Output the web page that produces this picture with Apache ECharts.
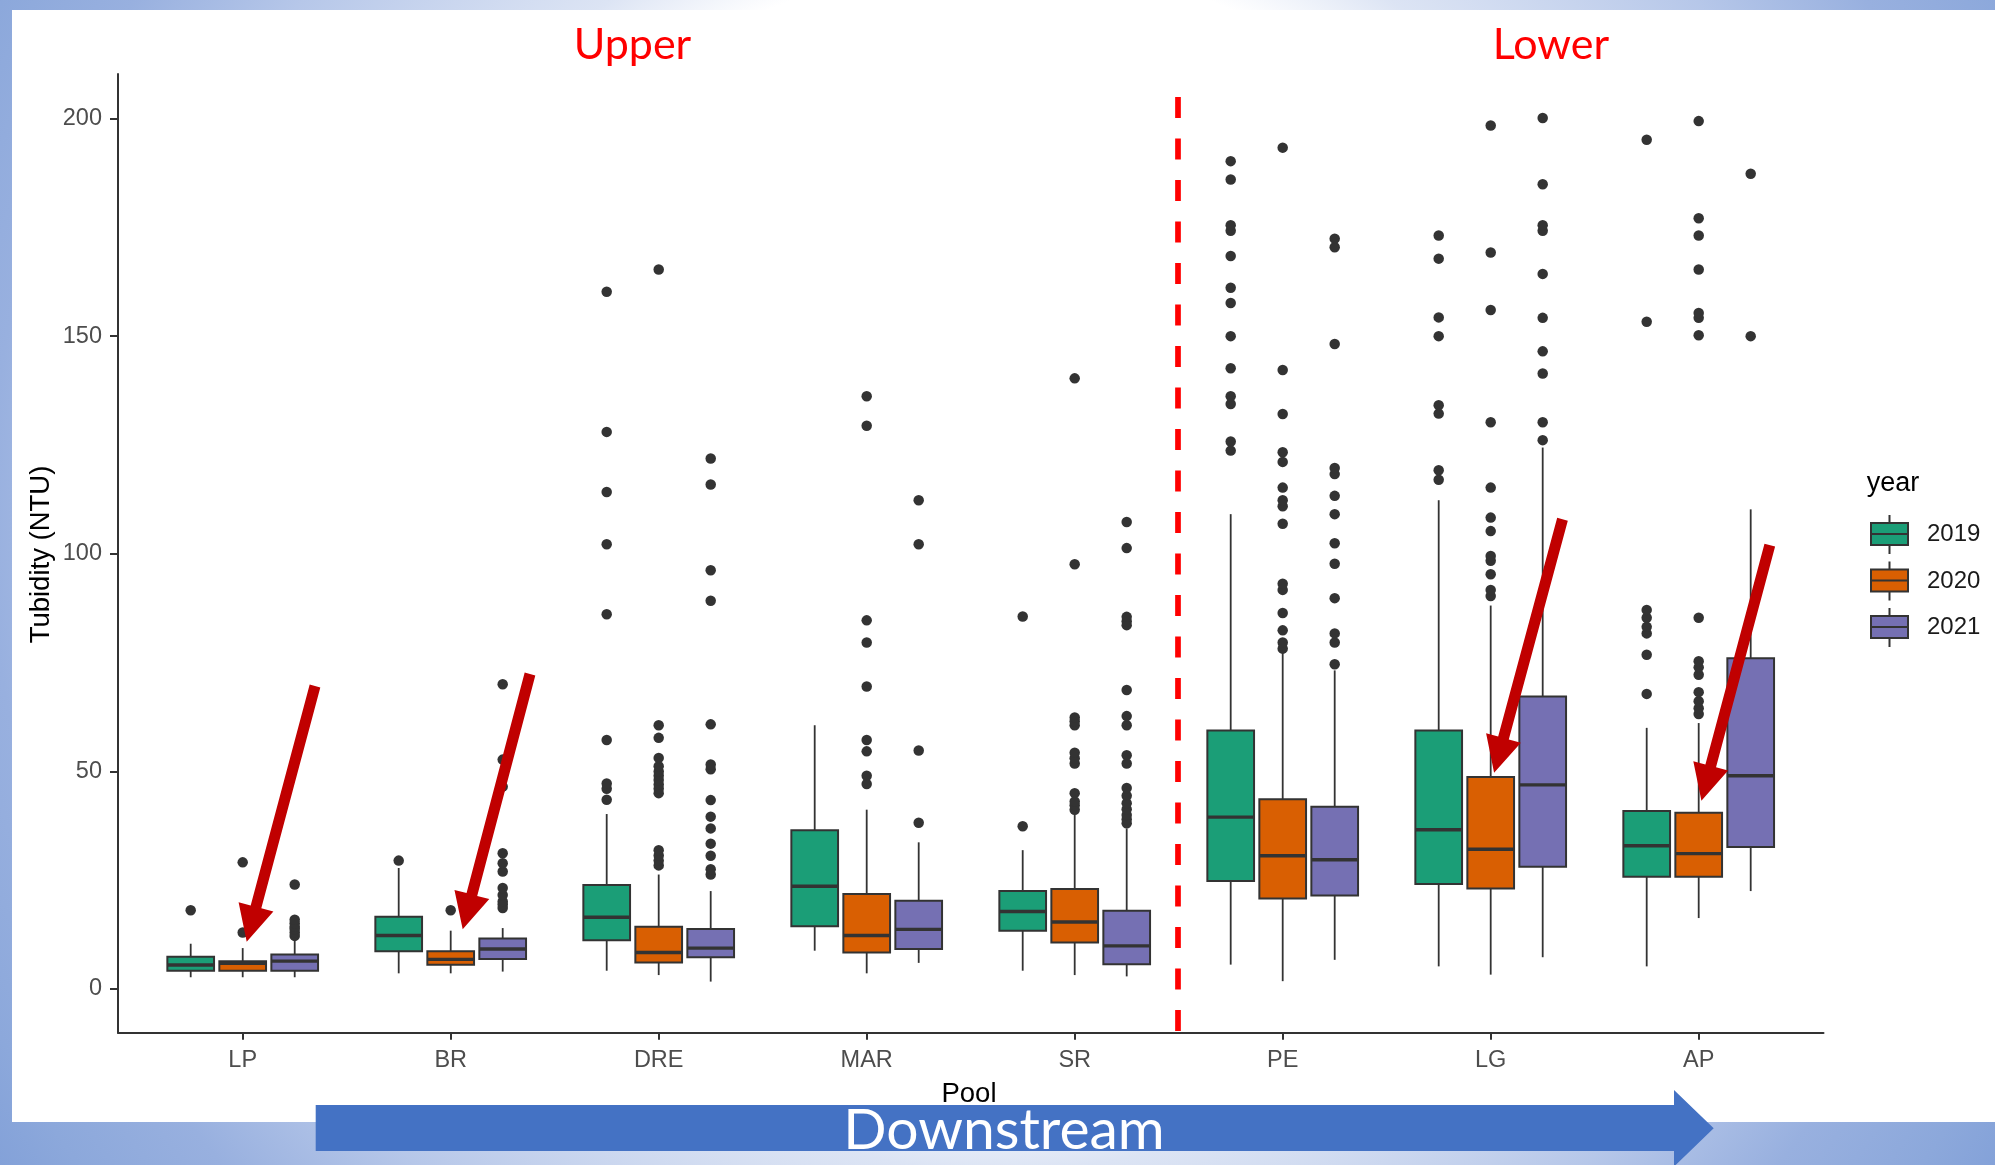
<!DOCTYPE html>
<html>
<head>
<meta charset="utf-8">
<script src="https://cdn.jsdelivr.net/npm/echarts@6/dist/echarts.min.js"></script>
<style>
html,body{margin:0;padding:0;background:#fff;}
#c{width:1995px;height:1165px;}
</style>
</head>
<body>
<div id="c"></div>
<script>
// ---------------- data ----------------
const pools = ['LP', 'BR', 'DRE', 'MAR', 'SR', 'PE', 'LG', 'AP'];
const years = ['2019', '2020', '2021'];
const yTicks = [0, 50, 100, 150, 200];

// [lower whisker, Q1, median, Q3, upper whisker] per pool
const box2019 = [
  [2.7, 4.2, 5.5, 7.4, 10.4],
  [3.6, 8.7, 12.3, 16.6, 27.8],
  [4.2, 11.2, 16.5, 23.9, 40.2],
  [8.8, 14.4, 23.6, 36.5, 60.6],
  [4.2, 13.4, 17.8, 22.5, 31.9],
  [5.6, 24.8, 39.5, 59.4, 109.1],
  [5.2, 24.1, 36.6, 59.4, 112.3],
  [5.2, 25.8, 32.9, 40.9, 60.0]
];
const box2020 = [
  [2.7, 4.2, 5.9, 6.4, 9.4],
  [3.6, 5.6, 6.8, 8.7, 13.4],
  [3.2, 6.1, 8.4, 14.3, 26.3],
  [3.6, 8.4, 12.3, 21.8, 41.2],
  [3.2, 10.7, 15.4, 23.0, 40.6],
  [1.8, 20.8, 30.6, 43.6, 77.5],
  [3.3, 23.1, 32.1, 48.7, 88.1],
  [16.3, 25.8, 31.1, 40.5, 61.1]
];
const box2021 = [
  [2.7, 4.2, 6.4, 7.9, 11.4],
  [4.0, 6.9, 9.2, 11.6, 14.0],
  [1.7, 7.3, 9.4, 13.8, 22.5],
  [6.0, 9.2, 13.7, 20.3, 33.7],
  [2.9, 5.7, 9.9, 18.0, 36.9],
  [6.7, 21.5, 29.7, 41.9, 73.2],
  [7.3, 28.1, 46.9, 67.2, 124.4],
  [22.5, 32.6, 49.0, 76.0, 110.2]
];

// outliers, one list per pool (same order as pools)
const out2019 = [
  [18.1],
  [29.5],
  [43.5, 46.0, 47.2, 57.2, 86.1, 102.2, 114.2, 128.0, 160.2],
  [],
  [37.4, 85.6],
  [123.7, 125.8, 134.4, 136.2, 142.6, 150.0, 157.6, 161.1, 168.4, 174.2, 175.5, 186.0, 190.2],
  [117.0, 119.2, 132.2, 134.1, 150.0, 154.3, 167.8, 173.1],
  [67.8, 76.8, 81.7, 83.2, 85.3, 87.1, 153.3, 195.1]
];
const out2020 = [
  [13.0, 29.1],
  [18.1],
  [28.4, 29.5, 30.7, 31.9, 45.0, 46.0, 47.0, 48.0, 49.0, 50.0, 51.2, 53.1, 57.7, 60.6, 165.3],
  [47.1, 49.0, 54.6, 57.2, 69.5, 79.6, 84.7, 129.4, 136.2],
  [41.2, 42.2, 43.1, 45.0, 51.8, 53.0, 54.3, 60.6, 61.5, 62.4, 97.6, 140.3],
  [78.2, 79.6, 82.4, 86.4, 91.7, 93.1, 106.9, 110.9, 112.3, 115.2, 121.1, 123.3, 132.1, 142.2, 193.3],
  [90.3, 91.7, 95.3, 98.4, 99.5, 105.2, 108.3, 115.2, 130.2, 156.0, 169.2, 198.4],
  [63.2, 64.5, 66.1, 68.2, 72.2, 73.9, 75.3, 85.3, 150.2, 154.2, 155.3, 165.3, 173.1, 177.1, 199.4]
];
const out2021 = [
  [12.2, 13.0, 13.8, 14.3, 15.1, 15.9, 24.0],
  [18.6, 19.4, 20.1, 21.6, 23.2, 27.0, 28.9, 31.2, 46.5, 52.7, 70.0],
  [26.3, 27.5, 30.6, 33.4, 36.9, 39.6, 43.4, 50.5, 51.6, 60.8, 89.2, 96.2, 115.9, 121.9],
  [38.2, 54.8, 102.2, 112.3],
  [38.1, 39.0, 40.0, 41.3, 42.7, 44.4, 46.2, 51.8, 53.7, 60.6, 62.7, 68.7, 83.6, 84.5, 85.5, 101.3, 107.3],
  [74.6, 79.6, 81.7, 89.8, 97.7, 102.4, 109.1, 113.3, 118.3, 119.7, 148.2, 170.4, 172.4],
  [126.1, 130.2, 141.4, 146.5, 154.2, 164.3, 174.2, 175.5, 184.9, 200.1],
  [150.0, 187.3]
];

// ---------------- layout & style ----------------
const boxes = [box2019, box2020, box2021];
const outs = [out2019, out2020, out2021];
const colors = ['#1B9E77', '#D95F02', '#7570B3'];
const INK = '#333333';
const DODGE = 0.25;      // fraction of a category band between dodged boxes
const BOXW = 0.2245;     // box width as a fraction of a category band

// panel frame (axis lines)
const gridA = { left: 118, top: 74, width: 1705.5, height: 958.7 };
// y tick grid: spans exactly the tick range 0..200
const gridC = { left: 118, top: 118.5, width: 1705.5, height: 870.5 };
// data grid: same vertical extent as the panel, inset horizontally (discrete expansion)
const gridB = { left: 138.7, top: 74, width: 1664, height: 958.7 };

const Y0 = yTicks[0], Y1 = yTicks[yTicks.length - 1];
const PX_PER_UNIT = gridC.height / (Y1 - Y0);
const YMIN = Y0 - ((gridA.top + gridA.height) - (gridC.top + gridC.height)) / PX_PER_UNIT;
const YMAX = Y1 + (gridC.top - gridA.top) / PX_PER_UNIT;
const BAND = gridB.width / pools.length;

function makeBoxRenderer(k) {
  return function (params, api) {
    const ci = api.value(0);
    const band = api.size([1, 0])[0];
    const cx = api.coord([ci, 0])[0] + (k - 1) * band * DODGE;
    const hw = band * BOXW / 2;
    const y = j => api.coord([ci, api.value(j)])[1];
    const yLo = y(1), yQ1 = y(2), yMed = y(3), yQ3 = y(4), yHi = y(5);
    const wl = { stroke: INK, lineWidth: 1.8 };
    return {
      type: 'group',
      children: [
        { type: 'line', shape: { x1: cx, y1: yHi, x2: cx, y2: yQ3 }, style: wl },
        { type: 'line', shape: { x1: cx, y1: yQ1, x2: cx, y2: yLo }, style: wl },
        { type: 'rect', shape: { x: cx - hw, y: yQ3, width: 2 * hw, height: yQ1 - yQ3 },
          style: { fill: colors[k], stroke: INK, lineWidth: 2 } },
        { type: 'line', shape: { x1: cx - hw, y1: yMed, x2: cx + hw, y2: yMed },
          style: { stroke: INK, lineWidth: 3.4 } }
      ]
    };
  };
}

const series = [];
years.forEach((yr, k) => {
  series.push({
    name: yr,
    type: 'custom',
    xAxisIndex: 1,
    yAxisIndex: 1,
    clip: false,
    z: 3,
    itemStyle: { color: colors[k] },
    encode: { x: 0, y: [1, 2, 3, 4, 5] },
    data: boxes[k].map((b, i) => [i].concat(b)),
    renderItem: makeBoxRenderer(k)
  });
});
years.forEach((yr, k) => {
  const pts = [];
  outs[k].forEach((arr, i) => arr.forEach(v => pts.push([i, v])));
  series.push({
    name: yr + ' outliers',
    type: 'scatter',
    xAxisIndex: 1,
    yAxisIndex: 1,
    clip: false,
    z: 4,
    symbol: 'circle',
    symbolSize: 10.5,
    symbolOffset: [(k - 1) * BAND * DODGE, 0],
    itemStyle: { color: INK, opacity: 1 },
    emphasis: { disabled: true },
    data: pts
  });
});

// ---------- decorations (slide annotations) ----------
function arrowPoints(x0, y0, x1, y1, sw, hw, hl) {
  const dx = x1 - x0, dy = y1 - y0, L = Math.hypot(dx, dy);
  const ux = dx / L, uy = dy / L, px = -uy, py = ux;
  const bx = x1 - ux * hl, by = y1 - uy * hl;
  return [
    [x0 + px * sw / 2, y0 + py * sw / 2],
    [bx + px * sw / 2, by + py * sw / 2],
    [bx + px * hw / 2, by + py * hw / 2],
    [x1, y1],
    [bx - px * hw / 2, by - py * hw / 2],
    [bx - px * sw / 2, by - py * sw / 2],
    [x0 - px * sw / 2, y0 - py * sw / 2]
  ];
}
const redArrows = [
  [315, 686, 246.7, 941.7],
  [530, 674, 462.7, 929.3],
  [1562.5, 519.2, 1494.1, 772.8],
  [1769.8, 545.2, 1701.4, 800.7]
];

const graphics = [
  { type: 'rect', z: -2, silent: true, shape: { x: 0, y: 0, width: 1995, height: 1165 },
    style: { fill: { type: 'radial', x: 1000, y: 520, r: 1250, global: true,
      colorStops: [
        { offset: 0, color: '#FFFFFF' }, { offset: 0.448, color: '#FFFFFF' },
        { offset: 0.52, color: '#DCE4F4' }, { offset: 0.696, color: '#B6C7E9' },
        { offset: 0.808, color: '#98B0DF' }, { offset: 0.9, color: '#8CA8DB' },
        { offset: 1, color: '#7B9BD6' }] } } },
  { type: 'rect', z: -1, silent: true, shape: { x: 12, y: 10, width: 1983, height: 1112 },
    style: { fill: '#FFFFFF' } },
  { type: 'text', z: 5, style: { text: 'Upper', x: 632.5, y: 44.7, align: 'center', verticalAlign: 'middle',
      fill: '#FF0000', font: '43px Lato' } },
  { type: 'text', z: 5, style: { text: 'Lower', x: 1551, y: 44.7, align: 'center', verticalAlign: 'middle',
      fill: '#FF0000', font: '43px Lato' } },
  { type: 'text', z: 5, style: { text: 'Pool', x: 969, y: 1094, align: 'center', verticalAlign: 'middle',
      fill: '#000000', font: '27.5px "Liberation Sans"' } },
  { type: 'text', z: 5, rotation: Math.PI / 2, x: 41, y: 554.5,
    style: { text: 'Tubidity (NTU)', x: 0, y: 0, align: 'center', verticalAlign: 'middle',
      fill: '#000000', font: '27.5px "Liberation Sans"' } },
  { type: 'text', z: 5, style: { text: 'year', x: 1866.7, y: 483.5, align: 'left', verticalAlign: 'middle',
      fill: '#000000', font: '27px "Liberation Sans"' } },
  { type: 'line', z: 6, silent: true, shape: { x1: 1178, y1: 97, x2: 1178, y2: 1043 },
    style: { stroke: '#FF0000', lineWidth: 5.7, lineDash: [21, 20.5] } },
  { type: 'polygon', z: 7, silent: true,
    shape: { points: [[315.7, 1105], [1674, 1105], [1674, 1090], [1713.7, 1128.3], [1674, 1166.6], [1674, 1151], [315.7, 1151]] },
    style: { fill: '#4472C4' } },
  { type: 'text', z: 8, style: { text: 'Downstream', x: 1004, y: 1130.5, align: 'center', verticalAlign: 'middle',
      fill: '#FFFFFF', font: '57px Lato' } }
];
redArrows.forEach(a => {
  graphics.push({ type: 'polygon', z: 10, silent: true,
    shape: { points: arrowPoints(a[0], a[1], a[2], a[3], 11, 36, 36) },
    style: { fill: '#C00000' } });
});

const LEGEND_ICON = 'path://M18.5,0L18.5,8M0,8L37,8L37,30L0,30ZM0,19L37,19M18.5,30L18.5,39';
const hiddenAxis = { axisLine: { show: false }, axisTick: { show: false }, axisLabel: { show: false }, splitLine: { show: false } };

const option = {
  animation: false,
  backgroundColor: '#FFFFFF',
  grid: [
    Object.assign({ containLabel: false }, gridA),
    Object.assign({ containLabel: false }, gridB),
    Object.assign({ containLabel: false }, gridC)
  ],
  xAxis: [
    { gridIndex: 0, type: 'value', min: 0, max: 1,
      axisLine: { show: true, onZero: false, lineStyle: { color: INK, width: 2 } },
      axisTick: { show: false }, axisLabel: { show: false }, splitLine: { show: false } },
    { gridIndex: 1, type: 'category', data: pools, boundaryGap: true, position: 'bottom',
      axisLine: { show: false, onZero: false },
      axisTick: { show: true, alignWithLabel: true, interval: 0, length: 7, lineStyle: { color: INK, width: 2 } },
      axisLabel: { interval: 0, color: '#4D4D4D', fontSize: 23.5, fontFamily: '"Liberation Sans", Arial', margin: 16 },
      splitLine: { show: false } },
    Object.assign({ gridIndex: 2, type: 'value', min: 0, max: 1 }, hiddenAxis)
  ],
  yAxis: [
    { gridIndex: 0, type: 'value', min: 0, max: 1,
      axisLine: { show: true, onZero: false, lineStyle: { color: INK, width: 2 } },
      axisTick: { show: false }, axisLabel: { show: false }, splitLine: { show: false } },
    Object.assign({ gridIndex: 1, type: 'value', min: YMIN, max: YMAX }, hiddenAxis),
    { gridIndex: 2, type: 'value', min: Y0, max: Y1, position: 'left',
      interval: yTicks[1] - yTicks[0],
      axisLine: { show: false, onZero: false },
      axisTick: { show: true, length: 8, lineStyle: { color: INK, width: 2 } },
      axisLabel: { color: '#4D4D4D', fontSize: 23.5, fontFamily: '"Liberation Sans", Arial', margin: 16 },
      splitLine: { show: false } }
  ],
  legend: {
    data: years.map(y => ({ name: y, icon: LEGEND_ICON })),
    orient: 'vertical',
    left: 1870,
    top: 514,
    padding: 0,
    itemWidth: 37,
    itemHeight: 39,
    itemGap: 5.5,
    selectedMode: false,
    itemStyle: { borderColor: INK, borderWidth: 2 },
    textStyle: { fontSize: 24, color: '#1A1A1A', fontFamily: '"Liberation Sans", Arial', padding: [6, 0, 0, 14] }
  },
  graphic: graphics,
  series: series
};

const chart = echarts.init(document.getElementById('c'), null, { renderer: 'canvas' });
chart.setOption(option);
</script>
</body>
</html>
